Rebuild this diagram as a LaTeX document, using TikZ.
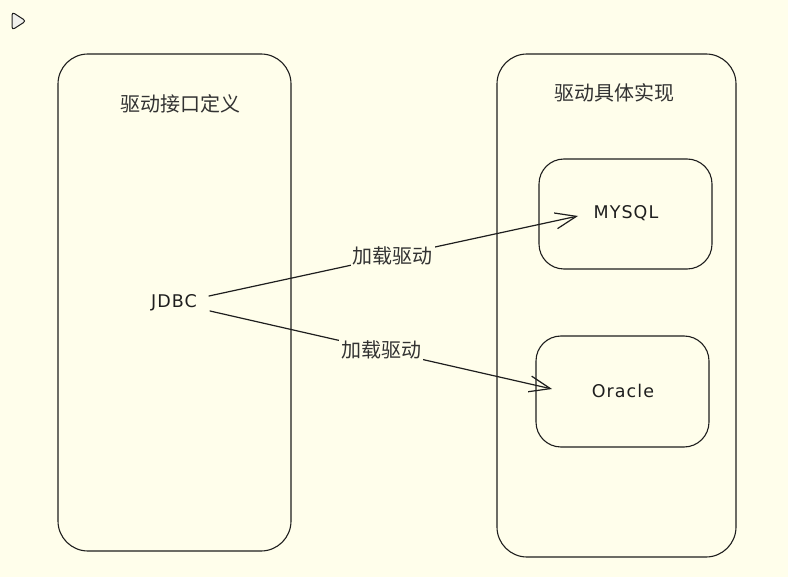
\documentclass[tikz,border=0pt]{standalone}
\usepackage{fontspec}
\usetikzlibrary{arrows.meta}
\newfontfamily\cjk{Noto Sans CJK SC}
\newfontfamily\hand[LetterSpace=6]{DejaVu Sans}
\definecolor{bg}{RGB}{255,254,235}
\definecolor{ink}{RGB}{30,30,30}
\definecolor{txt}{RGB}{50,50,50}
\definecolor{iconfill}{RGB}{240,240,236}
\tikzset{
  panel/.style={draw=ink, line width=1.1pt, rounded corners=30pt},
  subpanel/.style={draw=ink, line width=1.1pt, rounded corners=25pt},
  title/.style={font=\cjk\fontsize{20}{24}\selectfont, text=txt, inner sep=0pt},
  lbl/.style={font=\cjk\fontsize{20}{24}\selectfont, text=txt, fill=bg, inner sep=2pt},
  code/.style={font=\hand\fontsize{17.5}{20}\selectfont, text=ink, inner sep=0pt},
  conn/.style={draw=ink, line width=1.2pt, line cap=round, line join=round,
    -{Straight Barb[length=21pt,width=16pt,line width=1.2pt]}},
}
\begin{document}
\begin{tikzpicture}[x=1pt,y=-1pt]
\fill[bg] (0,0) rectangle (788,577);
\useasboundingbox (0,0) rectangle (788,577);
% play icon
\draw[ink, fill=iconfill, line width=1pt, rounded corners=3pt] (12,12) -- (12,30) -- (26,21) -- cycle;
% panels
\draw[panel] (58,54) rectangle (291,551);
\draw[panel] (497,54) rectangle (736,557);
\draw[subpanel] (539,159) rectangle (712,269);
\draw[subpanel] (536,336) rectangle (709,447);
% titles
\node[title] (t1) at (180,104) {驱动接口定义};
\node[title] (t2) at (614,93) {驱动具体实现};
% items
\node[code] (jdbc) at (174,303) {JDBC};
\node[code] (mysql) at (626,213) {MYSQL};
\node[code] (oracle) at (623,391) {Oracle};
% connectors
\coordinate (s1) at ([xshift=35pt,yshift=7pt]jdbc.center);
\coordinate (s2) at ([xshift=36pt,yshift=-8pt]jdbc.center);
\coordinate (e1) at ([xshift=-48pt,yshift=-3pt]mysql.center);
\coordinate (e2) at ([xshift=-71pt,yshift=2pt]oracle.center);
\draw[conn] (s1) -- node[lbl, pos=0.498] {加载驱动} (e1);
\draw[conn] (s2) -- node[lbl, pos=0.5] {加载驱动} (e2);
\end{tikzpicture}
\end{document}
